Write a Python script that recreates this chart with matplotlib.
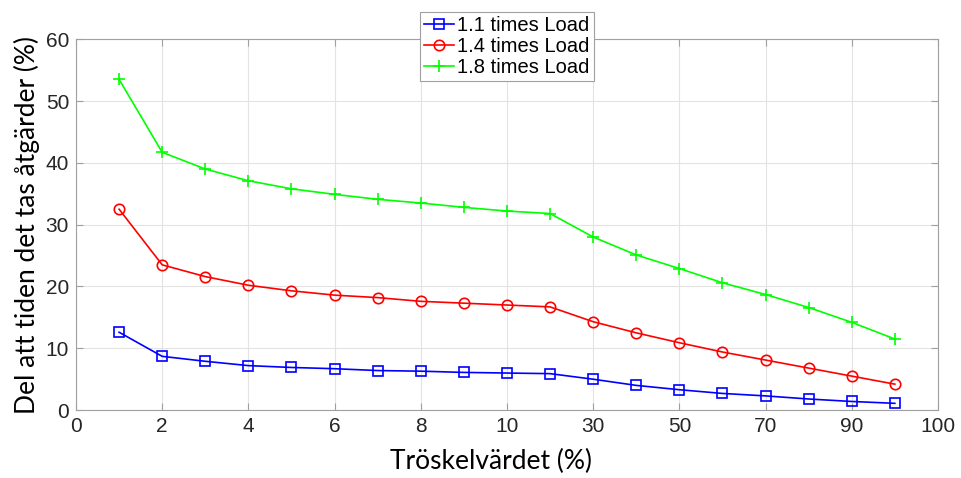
import matplotlib.pyplot as plt
import numpy as np

# Tröskelvärden (kategorier) och andel tid med åtgärder (%)
troskel = ['1', '2', '3', '4', '5', '6', '7', '8', '9', '10',
           '20', '30', '40', '50', '60', '70', '80', '90', '100']
last_11 = [12.6, 8.7, 7.9, 7.2, 6.9, 6.7, 6.4, 6.3, 6.1, 6.0,
           5.9, 5.0, 4.0, 3.3, 2.7, 2.3, 1.8, 1.4, 1.1]
last_14 = [32.5, 23.5, 21.6, 20.2, 19.3, 18.6, 18.2, 17.6, 17.3, 17.0,
           16.7, 14.3, 12.5, 10.9, 9.4, 8.1, 6.8, 5.5, 4.2]
last_18 = [53.5, 41.7, 39.0, 37.1, 35.8, 34.9, 34.1, 33.5, 32.8, 32.2,
           31.8, 28.0, 25.1, 22.9, 20.6, 18.7, 16.6, 14.2, 11.5]
tick_etiketter = ['0', '2', '4', '6', '8', '10', '30', '50', '70', '90', '100']

x = np.arange(1, len(troskel) + 1)

plt.rcParams['font.family'] = ['Liberation Sans', 'DejaVu Sans']

fig = plt.figure(figsize=(9.62, 4.78), dpi=100)
ax = fig.add_axes([0.079, 0.142, 0.896, 0.776])

ax.plot(x, last_11, color='#0000ff', lw=1.2, marker='s', ms=6.5, mfc='none',
        mew=1.2, label='1.1 times Load')
ax.plot(x, last_14, color='#ff0000', lw=1.2, marker='o', ms=7.5, mfc='none',
        mew=1.2, label='1.4 times Load')
ax.plot(x, last_18, color='#00ff00', lw=1.2, marker='+', ms=9, mew=1.2,
        label='1.8 times Load')

ax.set_xlim(0, 20)
ax.set_ylim(0, 60)
ax.set_xticks(np.arange(0, 21, 2))
ax.set_xticklabels(tick_etiketter)
ax.set_yticks(np.arange(0, 61, 10))
ax.grid(True, color='#e3e3e3', lw=0.8)
ax.set_axisbelow(True)
ax.tick_params(direction='in', top=True, right=True, length=5, pad=5,
               labelsize=15, colors='#a0a0a0', labelcolor='#262626')
for s in ax.spines.values():
    s.set_color('#a0a0a0')

ax.set_xlabel('Tröskelvärdet (%)', fontsize=19, family=['Lato', 'DejaVu Sans'],
              va='top')
ax.xaxis.set_label_coords(0.481, -0.105)
ax.set_ylabel('Del att tiden det tas åtgärder (%)', fontsize=19,
              family=['Lato', 'DejaVu Sans'])
ax.yaxis.set_label_coords(-0.042, 0.5)

leg = ax.legend(loc='upper center', bbox_to_anchor=(0.5, 1.073), fontsize=14.5,
                frameon=True, fancybox=False, edgecolor='#a0a0a0', framealpha=1,
                handlelength=1.5, handletextpad=0.15, borderpad=0.2,
                labelspacing=0.1, borderaxespad=0)
leg.get_frame().set_linewidth(0.8)

fig.savefig('out.png', dpi=100)
